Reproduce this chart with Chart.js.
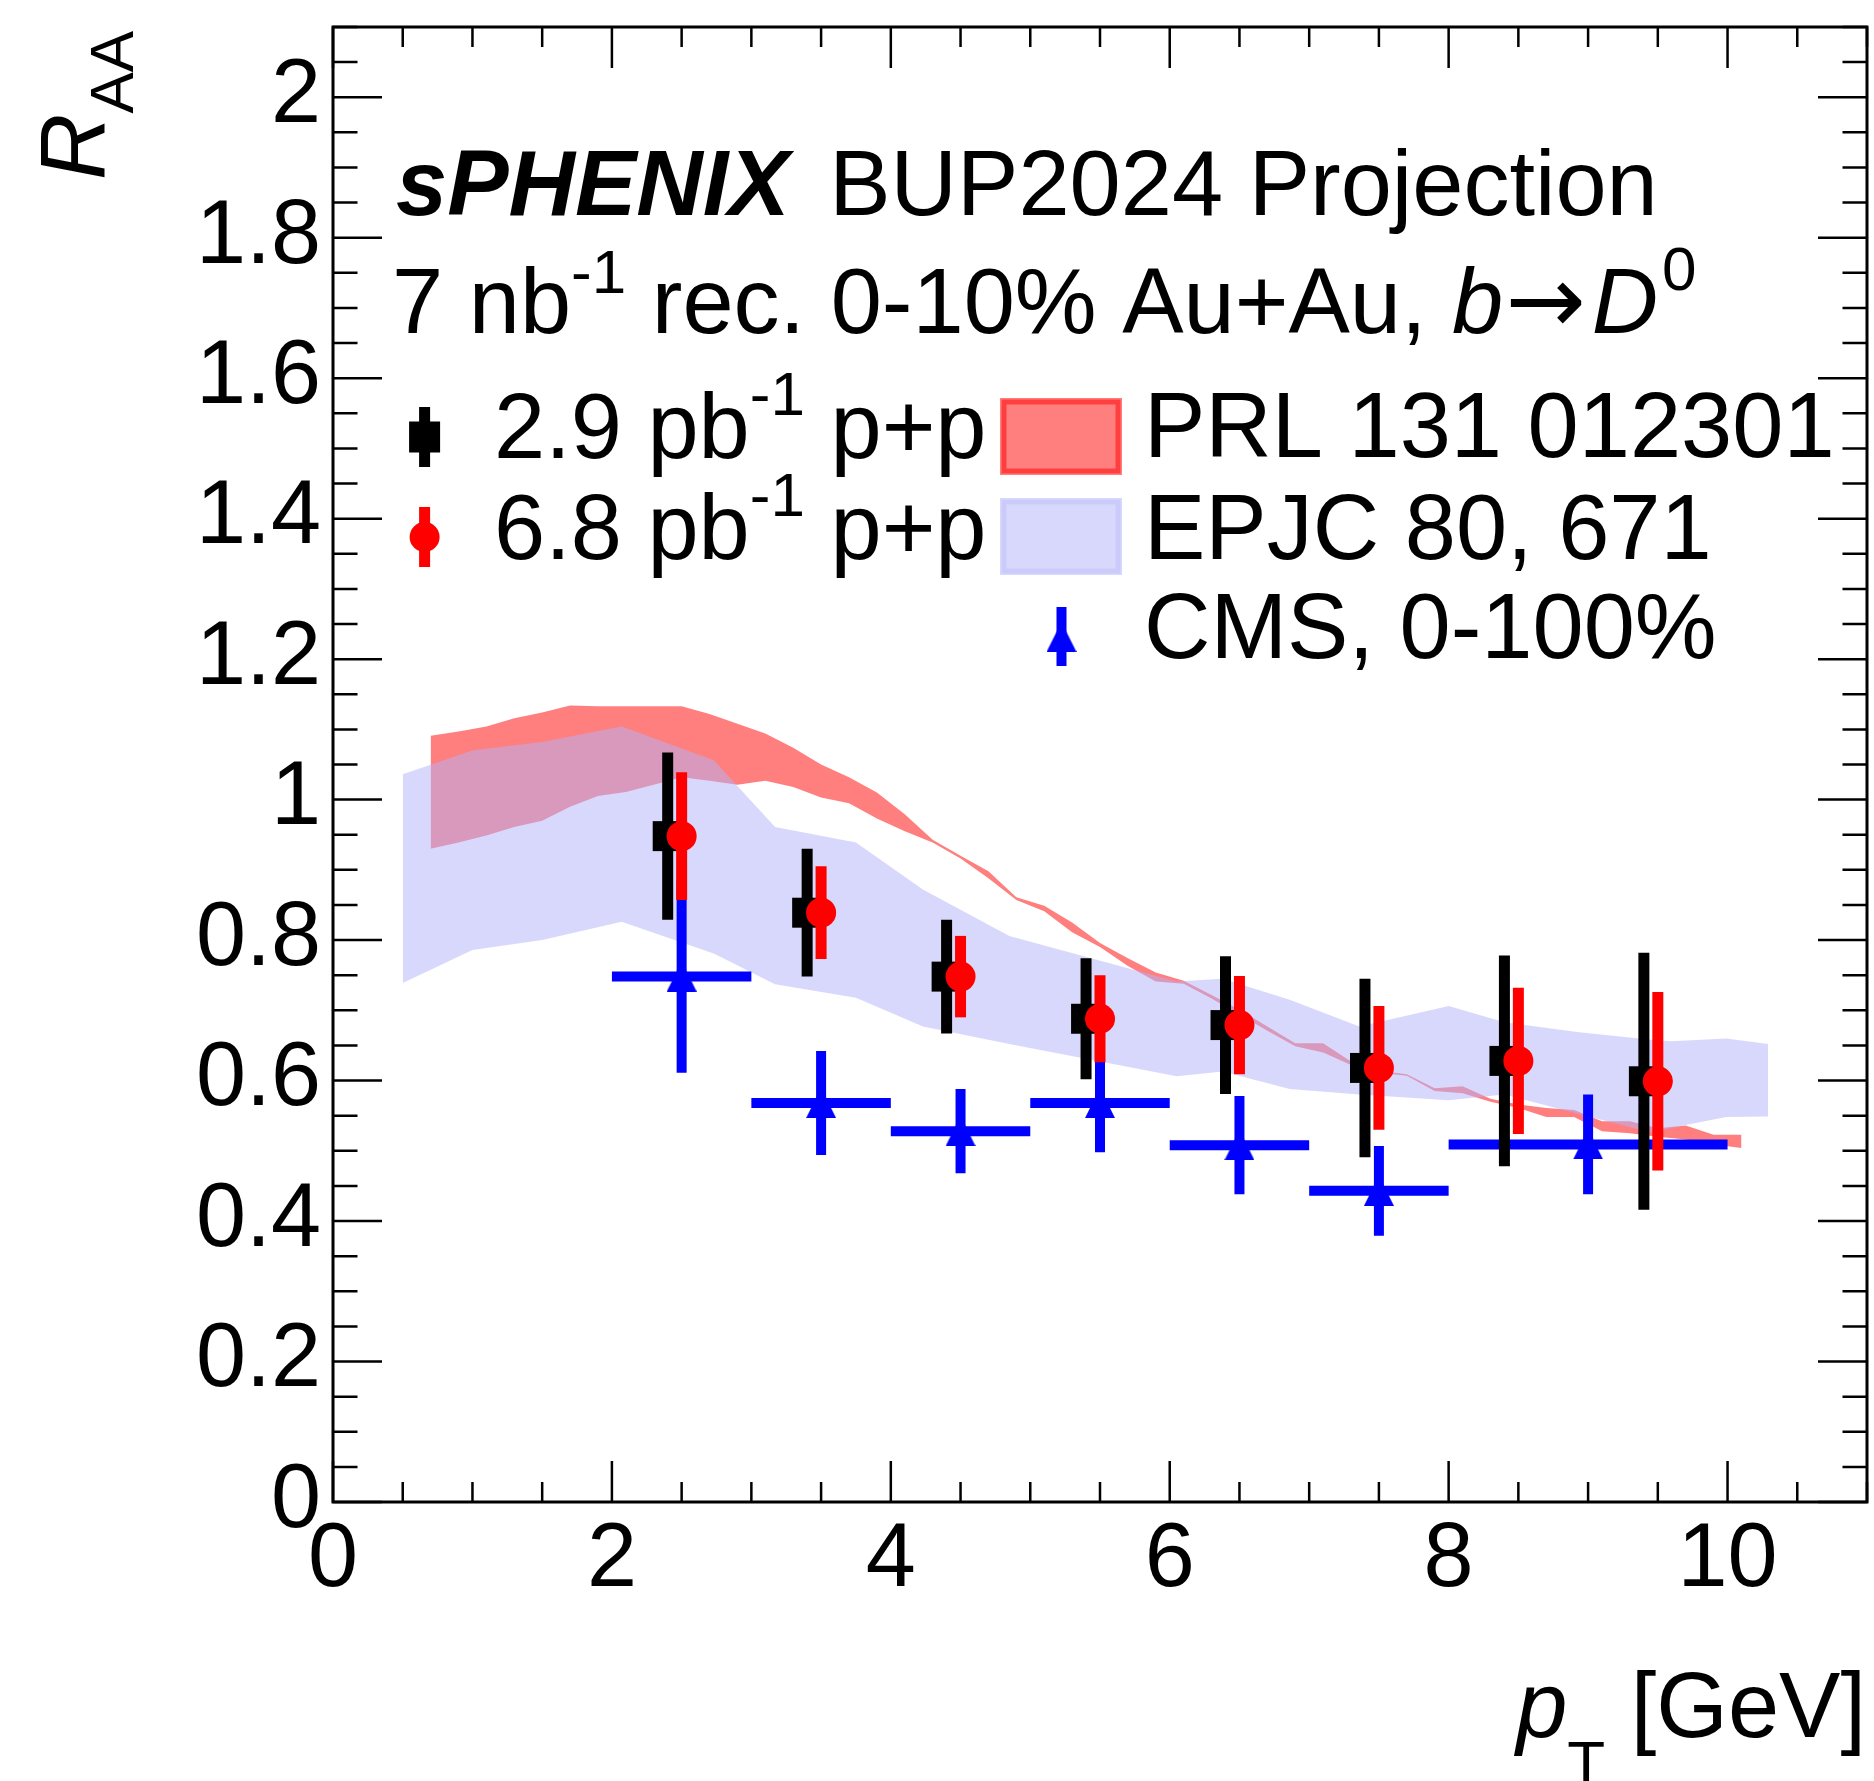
<!DOCTYPE html>
<html><head><meta charset="utf-8">
<script src="https://cdn.jsdelivr.net/npm/chart.js@4.4.1/dist/chart.umd.min.js"></script>
<style>html,body{margin:0;padding:0;background:#fff;}canvas{display:block;}</style>
</head><body>
<canvas id="c" width="1874" height="1781" style="width:1874px;height:1781px"></canvas>
<script>
// ---------- data ----------
const xTickLabels = [0, 2, 4, 6, 8, 10];
const yTickLabels = [0, 0.2, 0.4, 0.6, 0.8, 1.0, 1.2, 1.4, 1.6, 1.8, 2.0];

// sPHENIX projection, 2.9 pb^-1 p+p reference (drawn slightly left of bin centre)
const lowLumiX   = [2.4, 3.4, 4.4, 5.4, 6.4, 7.4, 8.4, 9.4];
const lowLumiRAA = [0.948, 0.839, 0.748, 0.688, 0.679, 0.618, 0.628, 0.599];
const lowLumiErr = [0.119, 0.091, 0.081, 0.086, 0.098, 0.127, 0.150, 0.183];

// sPHENIX projection, 6.8 pb^-1 p+p reference
const highLumiX   = [2.5, 3.5, 4.5, 5.5, 6.5, 7.5, 8.5, 9.5];
const highLumiRAA = [0.948, 0.839, 0.748, 0.688, 0.679, 0.618, 0.628, 0.599];
const highLumiErr = [0.091, 0.066, 0.058, 0.062, 0.070, 0.088, 0.104, 0.127];

// CMS, 0-100%
const cmsX    = [2.5, 3.5, 4.5, 5.5, 6.5, 7.5, 9.0];
const cmsXErr = [0.5, 0.5, 0.5, 0.5, 0.5, 0.5, 1.0];
const cmsRAA  = [0.748, 0.568, 0.528, 0.568, 0.508, 0.443, 0.509];
const cmsYErr = [0.137, 0.074, 0.060, 0.070, 0.070, 0.064, 0.071];

// PRL 131 012301 band
const prlX  = [0.7,0.9,1.1,1.3,1.5,1.7,1.9,2.1,2.3,2.5,2.7,2.9,3.1,3.3,3.5,3.7,3.9,4.1,4.3,4.5,4.7,4.9,5.1,5.3,5.5,5.7,5.9,6.1,6.3,6.5,6.7,6.9,7.1,7.3,7.5,7.7,7.9,8.1,8.3,8.5,8.7,8.9,9.1,9.3,9.5,9.7,9.9,10.1];
const prlHi = [1.091,1.097,1.104,1.116,1.124,1.134,1.133,1.133,1.133,1.133,1.122,1.108,1.094,1.074,1.050,1.032,1.010,0.979,0.943,0.920,0.898,0.861,0.849,0.825,0.796,0.774,0.754,0.742,0.722,0.701,0.677,0.653,0.653,0.627,0.614,0.609,0.589,0.592,0.574,0.566,0.561,0.558,0.542,0.542,0.532,0.536,0.523,0.523];
const prlLo = [0.930,0.939,0.949,0.961,0.970,0.990,1.005,1.011,1.021,1.032,1.027,1.021,1.027,1.018,1.003,0.995,0.973,0.955,0.939,0.916,0.888,0.857,0.841,0.811,0.790,0.763,0.741,0.738,0.717,0.694,0.671,0.649,0.640,0.622,0.611,0.607,0.585,0.582,0.570,0.561,0.548,0.548,0.528,0.525,0.520,0.516,0.509,0.504];

// EPJC 80, 671 band
const epjcX  = [0.5, 1.0, 1.5, 2.07, 2.73, 3.17, 3.75, 4.23, 4.85, 6.05, 6.38, 6.86, 7.36, 8.0, 8.4, 8.92, 9.45, 9.6, 9.99, 10.29];
const epjcHi = [1.036, 1.070, 1.082, 1.104, 1.056, 0.961, 0.939, 0.872, 0.806, 0.741, 0.745, 0.715, 0.677, 0.706, 0.683, 0.669, 0.658, 0.656, 0.660, 0.652];
const epjcLo = [0.739, 0.786, 0.800, 0.826, 0.781, 0.737, 0.718, 0.677, 0.652, 0.606, 0.613, 0.588, 0.580, 0.572, 0.580, 0.553, 0.526, 0.533, 0.548, 0.549];

// ---------- styling ----------
const FONT = "'Liberation Sans', Arial, Helvetica, sans-serif";
const R92 = `92px ${FONT}`, I92 = `italic 92px ${FONT}`, BI92 = `italic bold 92px ${FONT}`, S62 = `62px ${FONT}`;
const ARROW = `96px 'DejaVu Sans', sans-serif`;
const RED_BAND = 'rgba(255,0,0,0.5)';
const BLUE_BAND = 'rgba(178,178,249,0.51)';

const pts = (xa, ya) => xa.map((x, i) => ({x: x, y: ya[i]}));

function makeTriangle(color) {
  const c = document.createElement('canvas');
  c.width = 30; c.height = 30;
  const t = c.getContext('2d');
  t.fillStyle = color;
  t.beginPath(); t.moveTo(15, 0); t.lineTo(30, 30); t.lineTo(0, 30); t.closePath(); t.fill();
  return c;
}
const triangle = makeTriangle('#0000ff');

// error bars drawn through the chart scales, just before each dataset's markers
const errorBars = {
  id: 'errorBars',
  beforeDatasetDraw(chart, args) {
    const ds = chart.data.datasets[args.index];
    if (!ds.errY && !ds.errX) return;
    const xs = chart.scales.x, ys = chart.scales.y, ctx = chart.ctx;
    ctx.save();
    ctx.strokeStyle = ds.barColor;
    ctx.lineWidth = ds.barWidth;
    ctx.lineCap = 'butt';
    ds.data.forEach((p, i) => {
      const px = xs.getPixelForValue(p.x), py = ys.getPixelForValue(p.y);
      ctx.beginPath();
      if (ds.errY) {
        ctx.moveTo(px, ys.getPixelForValue(p.y - ds.errY[i]));
        ctx.lineTo(px, ys.getPixelForValue(p.y + ds.errY[i]));
      }
      if (ds.errX) {
        ctx.moveTo(xs.getPixelForValue(p.x - ds.errX[i]), py);
        ctx.lineTo(xs.getPixelForValue(p.x + ds.errX[i]), py);
      }
      ctx.stroke();
    });
    ctx.restore();
  }
};

// ROOT-like frame with inner ticks on all four sides
const frameTicks = {
  id: 'frameTicks',
  afterDatasetsDraw(chart) {
    const {ctx, chartArea: a, scales: {x, y}} = chart;
    ctx.save();
    ctx.strokeStyle = '#000';
    ctx.lineWidth = 2.5;
    ctx.beginPath();
    for (let i = 0; i <= 22; i++) {
      const px = x.getPixelForValue(i * 0.5);
      const L = (i % 4 === 0) ? 41 : 20;
      ctx.moveTo(px, a.bottom); ctx.lineTo(px, a.bottom - L);
      ctx.moveTo(px, a.top); ctx.lineTo(px, a.top + L);
    }
    for (let i = 0; i <= 42; i++) {
      const py = y.getPixelForValue(i * 0.05);
      const L = (i % 4 === 0) ? 49 : 24.5;
      ctx.moveTo(a.left, py); ctx.lineTo(a.left + L, py);
      ctx.moveTo(a.right, py); ctx.lineTo(a.right - L, py);
    }
    ctx.stroke();
    ctx.lineWidth = 3;
    ctx.strokeRect(a.left, a.top, a.right - a.left, a.bottom - a.top);
    ctx.restore();
  }
};

function richWidth(ctx, parts) {
  let w = 0;
  for (const p of parts) { ctx.font = p.f; w += ctx.measureText(p.t).width + (p.gap || 0); }
  return w;
}
function richText(ctx, x, y, parts) {
  let cx = x;
  for (const p of parts) {
    ctx.font = p.f;
    cx += (p.pre || 0);
    ctx.fillText(p.t, cx, y + (p.dy || 0));
    cx += ctx.measureText(p.t).width + (p.gap || 0);
  }
  return cx;
}

const annotations = {
  id: 'annotations',
  afterDraw(chart) {
    const ctx = chart.ctx;
    ctx.save();
    ctx.fillStyle = '#000';
    ctx.textAlign = 'left';
    ctx.textBaseline = 'alphabetic';

    richText(ctx, 396, 215, [{t: 'sPHENIX', f: BI92, gap: 14}, {t: ' BUP2024 Projection', f: R92}]);
    richText(ctx, 392, 333, [
      {t: '7 nb', f: R92}, {t: '-1', f: S62, dy: -40}, {t: ' rec. 0-10% Au+Au, ', f: R92},
      {t: 'b', f: I92, gap: 2}, {t: '\u2192', f: ARROW, gap: 6}, {t: 'D', f: I92, gap: 4}, {t: '0', f: S62, dy: -43}
    ]);

    // legend, left column
    richText(ctx, 494, 458, [{t: '2.9 pb', f: R92}, {t: '-1', f: S62, dy: -43}, {t: ' p+p', f: R92}]);
    richText(ctx, 494, 559, [{t: '6.8 pb', f: R92}, {t: '-1', f: S62, dy: -43}, {t: ' p+p', f: R92}]);
    // legend, right column
    ctx.font = R92;
    ctx.fillText('PRL 131 012301', 1144, 457);
    ctx.fillText('EPJC 80, 671', 1144, 559);
    ctx.fillText('CMS, 0-100%', 1144, 658);

    // legend samples
    ctx.lineCap = 'butt';
    ctx.strokeStyle = '#000'; ctx.lineWidth = 11;
    ctx.beginPath(); ctx.moveTo(424.6, 407); ctx.lineTo(424.6, 467); ctx.stroke();
    ctx.fillStyle = '#000'; ctx.fillRect(424.6 - 15.5, 437 - 15.5, 31, 31);
    ctx.strokeStyle = '#ff0000';
    ctx.beginPath(); ctx.moveTo(424.6, 507); ctx.lineTo(424.6, 567); ctx.stroke();
    ctx.fillStyle = '#ff0000'; ctx.beginPath(); ctx.arc(424.6, 537, 15, 0, Math.PI * 2); ctx.fill();
    ctx.strokeStyle = '#0000ff'; ctx.lineWidth = 10;
    ctx.beginPath(); ctx.moveTo(1061.5, 607); ctx.lineTo(1061.5, 666); ctx.stroke();
    ctx.drawImage(triangle, 1061.5 - 15, 637 - 15);

    ctx.fillStyle = RED_BAND; ctx.fillRect(1000, 398, 122, 77);
    ctx.strokeStyle = RED_BAND; ctx.lineWidth = 5; ctx.strokeRect(1004, 402, 114, 69);
    ctx.fillStyle = BLUE_BAND; ctx.fillRect(1000, 498, 122, 77);
    ctx.strokeStyle = 'rgba(178,178,249,0.35)'; ctx.lineWidth = 5; ctx.strokeRect(1004, 502, 114, 69);

    // x axis title, right aligned to the frame
    ctx.fillStyle = '#000';
    const xt = [{t: 'p', f: I92}, {t: 'T', f: S62, dy: 47}, {t: ' [GeV]', f: R92}];
    richText(ctx, 1866 - richWidth(ctx, xt), 1737, xt);

    // y axis title, rotated
    ctx.save();
    ctx.translate(105, 180);
    ctx.rotate(-Math.PI / 2);
    ctx.font = I92;
    ctx.fillText('R', 0, 0);
    const wR = ctx.measureText('R').width;
    ctx.font = S62;
    ctx.fillText('AA', wR, 28);
    ctx.restore();

    ctx.restore();
  }
};

const tickFont = {family: FONT, size: 90};

new Chart(document.getElementById('c'), {
  type: 'scatter',
  data: {
    datasets: [
      { label: '6.8 pb-1 p+p', data: pts(highLumiX, highLumiRAA),
        pointStyle: 'circle', pointRadius: 15, pointBackgroundColor: '#ff0000', backgroundColor: '#ff0000',
        pointBorderWidth: 0, borderWidth: 0,
        errY: highLumiErr, barColor: '#ff0000', barWidth: 11 },
      { label: '2.9 pb-1 p+p', data: pts(lowLumiX, lowLumiRAA),
        pointStyle: 'rect', pointRadius: 21.2, pointBackgroundColor: '#000000', backgroundColor: '#000000',
        pointBorderWidth: 0, borderWidth: 0,
        errY: lowLumiErr, barColor: '#000000', barWidth: 11 },
      { label: 'CMS, 0-100%', data: pts(cmsX, cmsRAA),
        pointStyle: triangle, pointRadius: 15, pointBorderWidth: 0, borderWidth: 0,
        errX: cmsXErr, errY: cmsYErr, barColor: '#0000ff', barWidth: 10 },
      { label: 'EPJC 80, 671', type: 'line', data: pts(epjcX, epjcHi), fill: '+1',
        backgroundColor: BLUE_BAND, borderColor: 'transparent', borderWidth: 0, pointRadius: 0, tension: 0 },
      { label: 'EPJC low', type: 'line', data: pts(epjcX, epjcLo), fill: false,
        borderColor: 'transparent', borderWidth: 0, pointRadius: 0, tension: 0 },
      { label: 'PRL 131 012301', type: 'line', data: pts(prlX, prlHi), fill: '+1',
        backgroundColor: RED_BAND, borderColor: 'transparent', borderWidth: 0, pointRadius: 0, tension: 0 },
      { label: 'PRL low', type: 'line', data: pts(prlX, prlLo), fill: false,
        borderColor: 'transparent', borderWidth: 0, pointRadius: 0, tension: 0 }
    ]
  },
  options: {
    responsive: false,
    devicePixelRatio: 1,
    animation: false,
    events: [],
    layout: {autoPadding: false, padding: {top: 27, right: 7, left: 0, bottom: 0}},
    plugins: {legend: {display: false}, tooltip: {enabled: false}, title: {display: false}},
    scales: {
      x: {
        type: 'linear', min: 0, max: 11,
        grid: {display: false, drawTicks: false}, border: {display: false},
        ticks: {font: tickFont, color: '#000', padding: 5, autoSkip: false, maxRotation: 0, minRotation: 0,
                callback: v => String(v)},
        afterBuildTicks: s => { s.ticks = xTickLabels.map(v => ({value: v})); },
        afterFit: s => { s.height = 279; s.paddingLeft = 0; s.paddingRight = 0; }
      },
      y: {
        type: 'linear', min: 0, max: 2.1,
        grid: {display: false, drawTicks: false}, border: {display: false},
        ticks: {font: tickFont, color: '#000', padding: 12, autoSkip: false,
                callback: v => String(Math.round(v * 10) / 10)},
        afterBuildTicks: s => { s.ticks = yTickLabels.map(v => ({value: v})); },
        afterFit: s => { s.width = 333; s.paddingTop = 0; s.paddingBottom = 0; }
      }
    }
  },
  plugins: [errorBars, frameTicks, annotations]
});
</script>
</body></html>
